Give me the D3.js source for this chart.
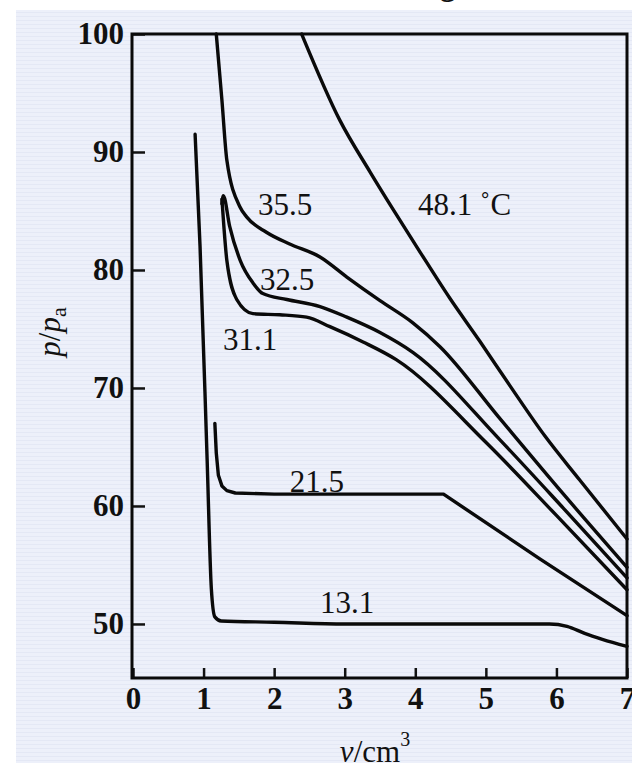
<!DOCTYPE html>
<html>
<head>
<meta charset="utf-8">
<script src="https://cdn.jsdelivr.net/npm/d3@7"></script>
<style>
  body { margin: 0; background: #ffffff; }
  svg { display: block; }
  .tick text { font-family: "Liberation Serif", "DejaVu Serif", serif; font-weight: bold; font-size: 31px; fill: #111; }
  .tick line { stroke: #111; stroke-width: 2.5px; }
  .curve { fill: none; stroke: #0a0a0a; stroke-width: 3.4px; stroke-linejoin: round; stroke-linecap: round; }
  .isoLabel { font-family: "Liberation Serif", "DejaVu Serif", serif; font-size: 31px; fill: #111; }
  .axisTitle { font-family: "Liberation Serif", "DejaVu Serif", serif; font-size: 31px; fill: #111; }
</style>
</head>
<body>
<script>
//isotherm temperatures (deg C)
var temps = ["13.1", "21.5", "31.1", "32.5", "35.5", "48.1"];

var v13 = [0.88, 0.95, 1.05, 1.11, 1.16, 1.25, 2.0, 3.0, 4.0, 5.0, 5.9, 6.15, 6.4, 6.65, 7.0];
var p13 = [91.5, 82.0, 64.0, 53.0, 50.6, 50.25, 50.15, 50.0, 50.0, 50.0, 50.0, 49.8, 49.2, 48.7, 48.1];

var v21 = [1.16, 1.18, 1.21, 1.26, 1.33, 1.45, 2.0, 3.0, 4.0, 4.4, 5.77, 7.0];
var p21 = [67.0, 64.5, 62.6, 61.7, 61.3, 61.1, 61.0, 61.0, 61.0, 61.0, 55.5, 50.7];

var v31 = [1.26, 1.29, 1.33, 1.47, 1.70, 2.08, 2.46, 2.79, 3.26, 3.73, 5.0, 6.0, 7.0];
var p31 = [86.0, 83.5, 80.8, 77.5, 76.3, 76.2, 76.0, 75.2, 73.9, 72.4, 65.4, 59.2, 52.9];

var v32 = [1.26, 1.28, 1.37, 1.52, 1.70, 1.84, 2.18, 2.65, 3.03, 3.50, 3.97, 5.2, 6.1, 7.0];
var p32 = [85.6, 86.3, 83.7, 80.8, 78.9, 78.0, 77.5, 76.9, 76.0, 74.7, 73.0, 65.6, 59.8, 53.9];

var v35 = [1.18, 1.26, 1.33, 1.52, 1.61, 1.89, 2.22, 2.65, 3.03, 3.50, 3.97, 4.35, 5.2, 6.1, 7.0];
var p35 = [100, 94.4, 89.3, 85.3, 84.5, 83.2, 82.2, 81.1, 79.4, 77.4, 75.5, 73.5, 67.4, 61.0, 54.8];

var v48 = [2.39, 2.93, 3.36, 3.71, 4.07, 4.49, 4.91, 5.34, 5.84, 6.33, 7.0];
var p48 = [100, 92.7, 88.3, 84.9, 81.5, 77.6, 74.0, 70.2, 65.9, 62.2, 57.2];

//label anchors (data units) and texts
var labelText = ["13.1", "21.5", "31.1", "32.5", "35.5", "48.1 \u02DAC"];
var labelV = [2.65, 2.22, 1.275, 1.80, 1.77, 4.04];
var labelP = [50.9, 61.2, 73.2, 78.3, 84.66, 84.66];

//tick values
var xTicks = [0, 1, 2, 3, 4, 5, 6, 7];
var yTicks = [50, 60, 70, 80, 90, 100];

var width = 632,
    height = 763;

var svg = d3.select("body")
    .append("svg")
    .attr("width", width)
    .attr("height", height);

//scanned page background
var defs = svg.append("defs");
var pat = defs.append("pattern")
    .attr("id", "scan")
    .attr("width", 8)
    .attr("height", 4)
    .attr("patternUnits", "userSpaceOnUse");
pat.append("rect").attr("width", 8).attr("height", 4).attr("fill", "#edf0fa");
pat.append("rect").attr("width", 8).attr("height", 1).attr("fill", "#e4e8f5");

svg.append("rect")
    .attr("x", 16)
    .attr("y", 10)
    .attr("width", width - 16)
    .attr("height", height - 10)
    .attr("fill", "url(#scan)");

//cut off title letter at the top edge
svg.append("text")
    .attr("x", 440)
    .attr("y", -5)
    .attr("class", "axisTitle")
    .style("font-weight", "bold")
    .text("g");

var x = d3.scaleLinear()
    .domain([0, 7])
    .range([133, 627]);

var y = d3.scaleLinear()
    .domain([45.42, 100])
    .range([678, 34]);

//axes with inward ticks
var xAxis = svg.append("g")
    .attr("transform", "translate(0," + y(45.42) + ")")
    .call(d3.axisBottom(x).tickValues(xTicks).tickSize(-10).tickSizeOuter(0).tickPadding(9).tickFormat(d3.format("d")));
xAxis.select(".domain").remove();

var yAxis = svg.append("g")
    .attr("transform", "translate(" + x(0) + ",0)")
    .call(d3.axisLeft(y).tickValues(yTicks).tickSize(-12).tickSizeOuter(0).tickPadding(9).tickFormat(d3.format("d")));
yAxis.select(".domain").remove();

//frame
svg.append("rect")
    .attr("x", x(0) - 1)
    .attr("y", y(100))
    .attr("width", x(7) - x(0) + 1)
    .attr("height", y(45.42) - y(100))
    .attr("fill", "none")
    .attr("stroke", "#0a0a0a")
    .attr("stroke-width", 3);

//isotherms (21.5 keeps its sharp knee, so it is drawn straight between points)
var smooth = d3.line()
    .x(function(d){ return x(d[0]); })
    .y(function(d){ return y(d[1]); })
    .curve(d3.curveMonotoneX);

var straight = d3.line()
    .x(function(d){ return x(d[0]); })
    .y(function(d){ return y(d[1]); });

var series = [[v13, p13], [v21, p21], [v31, p31], [v32, p32], [v35, p35], [v48, p48]];

series.forEach(function(s, i){
    var pts = d3.zip(s[0], s[1]);
    var gen = temps[i] == "21.5" ? straight : smooth;
    svg.append("path")
        .attr("class", "curve t" + temps[i].replace(".", "_"))
        .attr("d", gen(pts));
});

//isotherm labels
svg.selectAll(".isoLabel")
    .data(labelText)
    .enter()
    .append("text")
    .attr("class", "isoLabel")
    .attr("x", function(d, i){ return x(labelV[i]); })
    .attr("y", function(d, i){ return y(labelP[i]); })
    .text(function(d){ return d; });

//axis titles
var yTitle = svg.append("text")
    .attr("class", "axisTitle")
    .attr("transform", "translate(60,332) rotate(-90)")
    .attr("text-anchor", "middle");
yTitle.append("tspan").style("font-style", "italic").text("p");
yTitle.append("tspan").text("/");
yTitle.append("tspan").style("font-style", "italic").text("p");
yTitle.append("tspan").attr("dy", 6).style("font-size", "22px").text("a");

var xTitle = svg.append("text")
    .attr("class", "axisTitle")
    .attr("x", 375)
    .attr("y", 762)
    .attr("text-anchor", "middle");
xTitle.append("tspan").style("font-style", "italic").text("v");
xTitle.append("tspan").text("/cm");
xTitle.append("tspan").attr("dy", -16).style("font-size", "20px").text("3");
</script>
</body>
</html>
